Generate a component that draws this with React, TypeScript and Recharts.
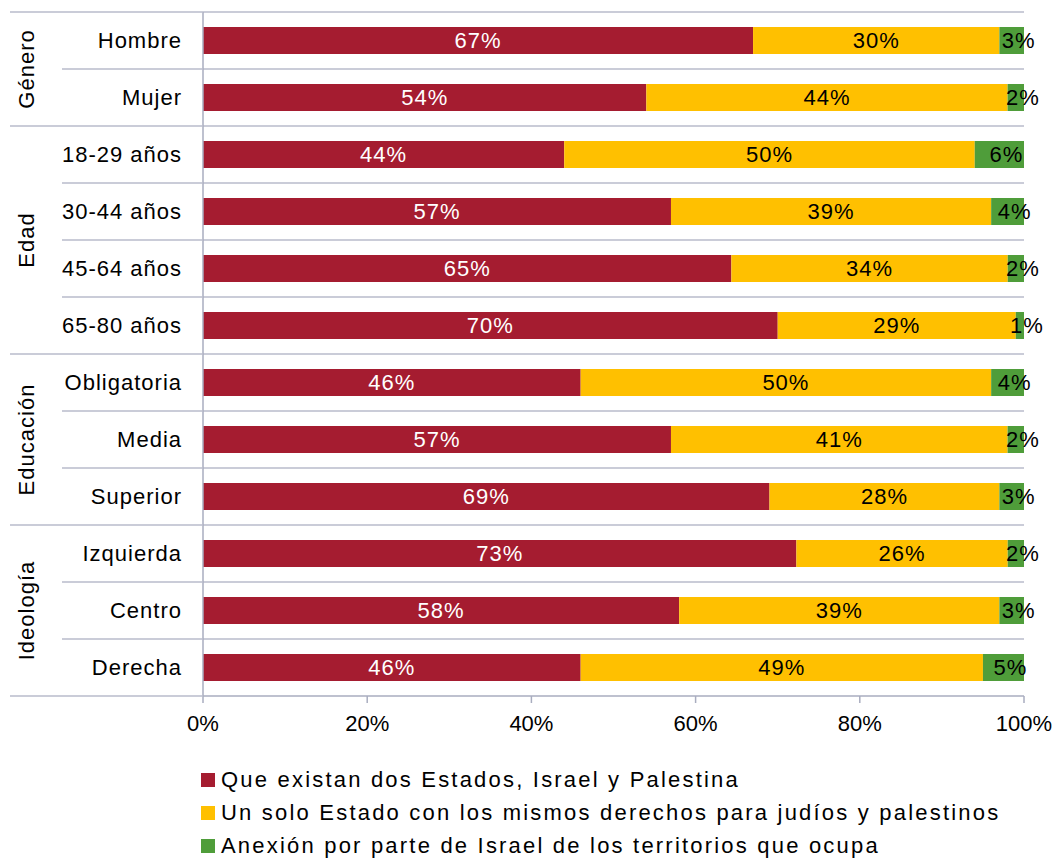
import { BarChart, Bar, XAxis, YAxis, CartesianGrid, LabelList } from 'recharts'

const categories = [
  'Hombre', 'Mujer',
  '18-29 años', '30-44 años', '45-64 años', '65-80 años',
  'Obligatoria', 'Media', 'Superior',
  'Izquierda', 'Centro', 'Derecha',
]
const groupNames = ['Género', 'Edad', 'Educación', 'Ideología']
const groupSizes = [2, 4, 3, 3]

const dosEstados = [67, 54, 44, 57, 65, 70, 46, 57, 69, 73, 58, 46]
const unEstado = [30, 44, 50, 39, 34, 29, 50, 41, 28, 26, 39, 49]
const anexion = [3, 2, 6, 4, 2, 1, 4, 2, 3, 2, 3, 5]

const seriesNames = [
  'Que existan dos Estados, Israel y Palestina',
  'Un solo Estado con los mismos derechos para judíos y palestinos',
  'Anexión por parte de Israel de los territorios que ocupa',
]
const xTicks = [0, 20, 40, 60, 80, 100]

const COLORS = ['#A51C30', '#FFC000', '#4F9D3A']
const GRID = '#B8BBCB'
const AXIS = '#A9ADBF'

const W = 1059
const H = 740
const TOP = 12
const PLOT_BOTTOM = 696
const X_AXIS_H = H - PLOT_BOTTOM
const PLOT_H = PLOT_BOTTOM - TOP
const FONT = 22
const SPACING = 1

const data = categories.map((cat, i) => ({
  cat,
  a: dosEstados[i],
  b: unEstado[i],
  c: anexion[i],
}))

// first and last row of each group
const groupStarts: number[] = []
const groupEnds: number[] = []
groupSizes.reduce((acc, s) => {
  groupStarts.push(acc)
  groupEnds.push(acc + s - 1)
  return acc + s
}, 0)

function CategoryTick(props: any) {
  const { x, y, payload } = props
  const i = payload.index
  const band = PLOT_H / categories.length
  const axisX = x + 21
  const g = groupStarts.indexOf(i)
  const isEnd = groupEnds.includes(i)
  return (
    <g>
      <text x={x} y={y} dy="0.36em" textAnchor="end" fontSize={FONT} fill="#000" style={{ letterSpacing: SPACING }}>
        {payload.value}
      </text>
      {i === 0 && (
        <line x1={10} x2={axisX} y1={y - band / 2} y2={y - band / 2} stroke={GRID} strokeWidth={1.5} />
      )}
      <line
        x1={isEnd ? 10 : 62}
        x2={axisX}
        y1={y + band / 2}
        y2={y + band / 2}
        stroke={GRID}
        strokeWidth={1.5}
      />
      {g >= 0 && (
        <text
          x={0}
          y={0}
          transform={`translate(34, ${y + ((groupSizes[g] - 1) * band) / 2}) rotate(-90)`}
          textAnchor="middle"
          fontSize={FONT}
          fill="#000"
          style={{ letterSpacing: SPACING }}
        >
          {groupNames[g]}
        </text>
      )}
    </g>
  )
}

// shift is only used for the thin green segments, whose labels spill past the bar
const makeLabel = (color: string, shift = 0) => (props: any) => {
  const { x, y, width, height, value } = props
  return (
    <text
      x={x + width / 2 + shift}
      y={y + height / 2}
      dy="0.36em"
      textAnchor="middle"
      fontSize={FONT}
      fill={color}
      style={{ letterSpacing: SPACING }}
    >
      {value}%
    </text>
  )
}

export default function App() {
  return (
    <div
      style={{
        position: 'absolute',
        left: 0,
        top: 0,
        width: W,
        height: 858,
        fontFamily: '"Liberation Sans", Arial, sans-serif',
        background: '#fff',
      }}
    >
      <BarChart
        width={W}
        height={H}
        data={data}
        layout="vertical"
        stackOffset="expand"
        margin={{ top: TOP, right: 35, left: 0, bottom: 0 }}
      >
        <CartesianGrid
          vertical={false}
          stroke={GRID}
          strokeWidth={1.5}
          horizontalCoordinatesGenerator={({ offset }: any) =>
            categories.map((_, i) => offset.top + (i * offset.height) / categories.length)
          }
        />
        <XAxis
          type="number"
          domain={[0, 1]}
          ticks={xTicks.map(t => t / 100)}
          tickFormatter={(v: number) => `${Math.round(v * 100)}%`}
          height={X_AXIS_H}
          tickSize={7}
          tickMargin={12}
          stroke={AXIS}
          strokeWidth={1.5}
          tick={{ fill: '#000', fontSize: FONT }}
          interval={0}
        />
        <YAxis
          type="category"
          dataKey="cat"
          width={203}
          tickLine={false}
          tickSize={0}
          tickMargin={21}
          stroke={AXIS}
          strokeWidth={1.5}
          tick={<CategoryTick />}
          interval={0}
        />
        <Bar dataKey="a" stackId="s" fill={COLORS[0]} barSize={27} isAnimationActive={false}>
          <LabelList dataKey="a" content={makeLabel('#fff')} />
        </Bar>
        <Bar dataKey="b" stackId="s" fill={COLORS[1]} barSize={27} isAnimationActive={false}>
          <LabelList dataKey="b" content={makeLabel('#000')} />
        </Bar>
        <Bar dataKey="c" stackId="s" fill={COLORS[2]} barSize={27} isAnimationActive={false}>
          <LabelList dataKey="c" content={makeLabel('#000', 7)} />
        </Bar>
      </BarChart>
      <div
        style={{
          position: 'absolute',
          left: 201,
          top: 763,
          fontSize: 22,
          letterSpacing: 2.2,
          color: '#000',
        }}
      >
        {seriesNames.map((name, i) => (
          <div key={name} style={{ display: 'flex', alignItems: 'center', height: 33, whiteSpace: 'nowrap' }}>
            <span style={{ width: 14, height: 14, background: COLORS[i], marginRight: 6, flex: 'none' }} />
            {name}
          </div>
        ))}
      </div>
    </div>
  )
}
